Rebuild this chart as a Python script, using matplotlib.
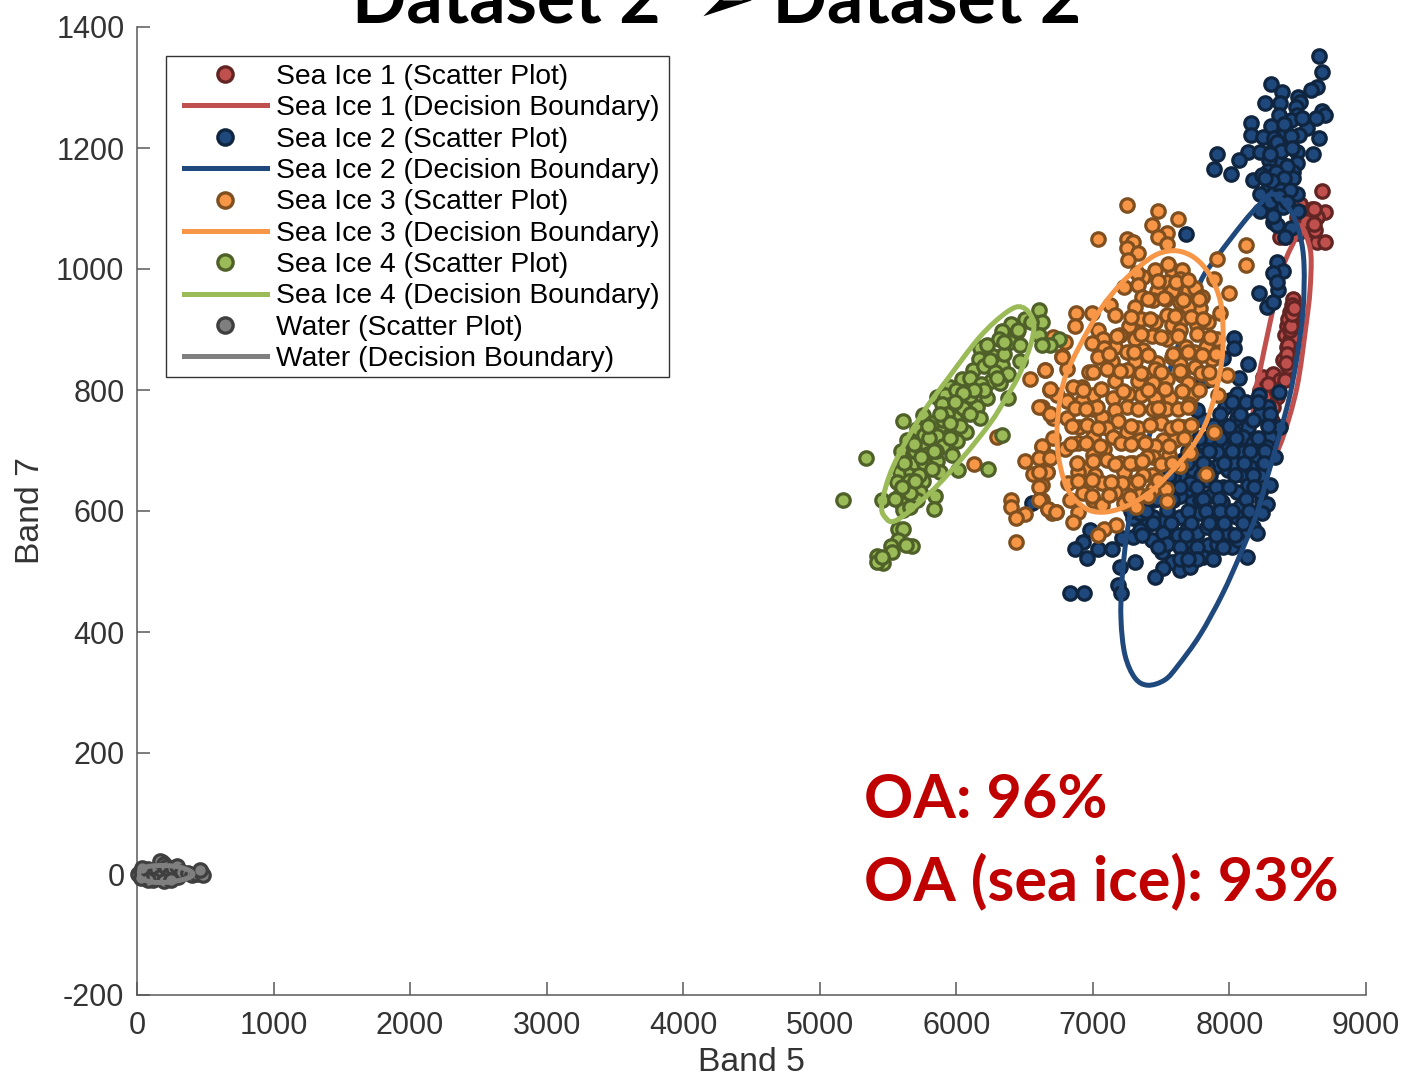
import matplotlib
matplotlib.use("Agg")
import matplotlib.pyplot as plt
from matplotlib.lines import Line2D
from matplotlib.patches import PathPatch, Rectangle
from matplotlib.path import Path

plt.rcParams['font.family'] = ['Liberation Sans', 'DejaVu Sans']
plt.rcParams['axes.unicode_minus'] = False

W, H = 1404, 1076

title_text = "Dataset 2  \u27A2 Dataset 2"
oa_lines = ["OA: 96%", "OA (sea ice): 93%"]
x_label = "Band 5"
y_label = "Band 7"
x_ticks = [0, 1000, 2000, 3000, 4000, 5000, 6000, 7000, 8000, 9000]
y_ticks = [-200, 0, 200, 400, 600, 800, 1000, 1200, 1400]

ice1_x = [8680,8700,8602,8517,8595,8493,8566,8639,8700,8407,8639,8541,8590,8627,8371,
          8468,8456,8444,8456,8419,8432,8407,8444,8419,8395,8444,8468,8432,8440,8430,8450,8425,8460,8470,8415,
          8310,8248,8224,8322,8371,8297,8346,8273,8310,8407,8200,8322,8290,8280,
          8230,8260,8340,8280,8560,8620,8500,8620]
ice1_y = [1129,1095,1100,1108,1076,1086,1064,1044,1044,1053,1086,1092,1086,1064,1053,
          951,940,929,913,905,918,891,883,871,849,860,888,838,900,875,905,860,925,935,845,
          811,822,800,827,816,789,789,761,748,816,783,772,752,745,
          770,790,800,810,1080,1075,1060,1100]
ice1_bx = [8517,8561,8597,8590,8561,8495,8392,8311,8238,8187,8172,8187,8224,8297,8392,8495,8517]
ice1_by = [1073,1056,1023,965,907,805,722,684,671,692,750,795,833,911,1003,1056,1073]

ice2_x = [8656,8678,8304,8641,8597,8385,8502,8370,8260,8517,8487,8678,8700,8634,8495,8363,8451,8158,8304,8407,
          8568,8158,8510,8246,8326,8656,8429,8326,8136,8224,8495,7909,8612,8070,8363,8290,8495,7887,8282,8465,8011,
          8172,8238,8348,8465,8407,8290,8224,8326,8495,8392,8502,8224,8319,8348,8451,8407,8319,
          8400,8350,8450,8380,8420,8340,8300,8400,8460,8530,8310,8380,8440,8260,8300,8360,8420,
          7682,8348,8392,8319,8356,8216,8348,8275,8319,8033,8033,8136,7953,8070,7799,8363,8055,8216,8282,6552,
          8053,8139,8036,7931,8224,8297,8371,8200,8097,7992,7907,7809,7736,7907,7992,8097,8224,8297,8139,8053,
          7956,7858,7724,7638,7687,7589,7516,7394,7296,7785,7907,7992,8102,8126,8017,7846,7687,7431,7309,7199,
          6930,6869,7040,7138,6955,6979,7211,7296,7504,7577,7516,7455,7638,7711,7809,7687,7589,7187,7206,6833,
          6938,8236,8224,8175,8078,7980,7882,7785,7638,7541,7443,7345,7760,7834,8053,7943,7834,7760,7858,7980,
          8102,8175,8273,8334,8029,8151,7834,7711,8078,8175,8004,8053,7968,7809,7638,7516,7662,7589,7492,7443,
          7345,7541,7736,7907,8065,8175,8200,8273,8236,7834,7809,7760,
          8020,8120,8210,8300,7930,8280,8000,7880,7780,7930,8050,8210,7700,7850,8020,8150,8260,7620,7690,7960,
          8110,8250,7560,7790,7860,8040,8170,7500,7640,7760,7900,8000,8180,7380,7470,7580,7810,7920,8120,7280,
          7390,7700,7830,7930,8020,8140,7440,7570,7720,7850,7960,8100,7360,7620,7900,8040,7680,7480,7640,7760,
          7950,7640,7760,7880,7700]
ice2_y = [1352,1326,1306,1301,1296,1293,1284,1274,1274,1276,1268,1261,1255,1250,1255,1255,1246,1241,1236,1227,
          1233,1222,1222,1218,1217,1217,1208,1202,1193,1193,1193,1190,1190,1180,1180,1180,1175,1165,1162,1160,1157,
          1147,1155,1142,1150,1134,1138,1124,1126,1124,1103,1096,1096,1078,1073,1068,1053,1088,
          1240,1210,1220,1195,1170,1160,1190,1150,1200,1250,1145,1130,1130,1150,1110,1120,1110,
          1058,1012,997,993,965,960,979,937,945,886,869,843,853,820,820,797,790,792,772,614,
          753,739,730,750,761,723,739,690,698,702,698,712,668,674,668,659,659,643,643,632,
          640,624,618,659,635,618,585,577,588,596,571,563,566,524,541,544,568,552,516,508,
          549,538,538,538,522,568,555,557,533,516,505,491,502,508,524,544,555,478,464,464,
          464,615,632,596,607,596,596,618,590,601,590,568,563,574,590,615,651,690,723,728,
          723,712,706,690,679,673,673,646,761,750,783,794,772,679,624,563,684,657,635,618,
          596,546,530,546,552,574,563,612,596,816,750,767,
          780,780,780,760,760,740,740,740,720,720,720,720,700,700,700,700,700,680,680,680,
          680,680,660,660,660,660,660,640,640,640,640,640,640,620,620,620,620,620,620,600,
          600,600,600,600,600,600,580,580,580,580,580,580,560,560,560,560,560,540,540,540,
          540,520,520,520,520]
ice2_bx = [8319,8443,8516,8546,8539,8495,8443,8370,8282,8202,8077,7945,7784,7625,7528,7403,7308,7235,7206,7213,
           7257,7345,7491,7638,7784,7909,8099,8209,8319]
ice2_by = [1124,1098,1056,1007,932,855,792,729,660,597,527,461,395,345,321,312,324,362,420,486,
           574,668,784,883,977,1020,1076,1104,1124]

ice3_x = [7248,7475,7621,7433,7040,7541,7475,7541,7248,7292,7253,7333,7260,8119,8119,7912,7887,7995,7455,7577,
          7553,7651,7370,7638,7541,7321,7333,7231,7699,7577,7472,7748,7797,7638,7536,7443,7358,7785,7126,7309,
          7699,6877,6991,7162,7541,7455,7350,7267,7577,7846,7765,7931,7650,6869,7040,7199,7431,7309,7638,7907,
          7541,6796,7077,6991,7162,7082,7829,7680,7370,7248,7741,6772,7870,7577,7309,7138,7638,7467,7040,7101,
          7248,7455,6650,6808,7748,6974,7541,7980,7333,7162,7650,7870,6918,6857,7438,7699,6686,7004,7350,7145,
          7260,7565,7919,7724,6735,6918,7455,6808,7707,6625,7248,7000,7438,7536,7626,7162,6686,6813,7065,7187,
          6711,7497,6899,7333,7663,7101,7253,7887,7000,7345,7150,7516,7602,6711,6894,7206,7455,6625,6796,7082,
          7667,7711,7560,6686,7000,7438,7394,7101,7292,7199,7638,6955,6667,7829,7436,7016,6894,7370,7228,6625,
          6820,7065,7292,7211,7443,7536,7162,6930,7345,6833,6625,7000,7541,7228,7065,7316,6674,6730,6894,6703,
          6852,7167,7082,7040,
          6540,6649,6686,6608,6686,6772,6710,6295,6130,6625,6503,6608,6686,6559,6662,6608,6608,6400,6400,6608,
          6503,6437,6674,6730,6437,
          7480,7610,7700,7400,7520,7660,7780,7280,7420,7600,7720,7810,7180,7350,7500,7620,7760,7860,7120,7300,
          7400,7590,7700,7800,7900,7000,7200,7350,7500,7640,7790,7850,6930,7060,7220,7400,7530,7650,7780,6870,
          7030,7330,7480,7700,6950,6850,6960,7040,7280,7420,7570,7620,7720,6840,6950,7050,7280,7380,7560,6880,
          7000,7160,7270,7360,7500,7580,6890,6990,7130,7330,7480,6990,7120,7270,7400]
ice3_y = [1105,1096,1082,1073,1049,1060,1053,1041,1049,1044,1034,1027,1015,1040,1006,1016,983,960,998,998,
          1009,998,987,983,979,993,973,970,965,963,963,968,954,946,950,949,954,936,940,938,
          938,927,927,924,924,913,917,905,908,913,908,927,918,905,899,891,890,885,899,885,
          885,880,885,877,871,870,871,871,866,862,862,856,852,855,848,848,843,845,855,834,
          833,834,833,834,838,829,819,824,815,815,824,819,805,805,811,811,800,792,792,786,
          794,786,792,792,792,782,786,782,777,772,772,768,768,768,768,767,761,753,755,749,
          753,745,739,737,739,737,731,730,723,717,723,717,717,720,712,712,707,706,703,703,
          720,696,692,690,692,689,690,684,679,679,675,670,665,661,660,659,665,659,665,643,
          646,646,646,646,637,637,632,629,626,618,618,618,617,614,610,607,604,599,599,596,
          581,577,570,561,
          819,833,801,772,761,855,888,723,678,707,683,688,688,661,665,665,640,618,607,618,
          595,589,603,599,548,
          980,978,982,950,952,948,951,920,918,922,920,918,890,892,888,890,892,888,860,862,
          858,860,862,858,860,830,832,828,830,832,828,830,800,802,798,800,802,798,800,770,
          772,768,770,772,768,740,742,738,740,742,738,740,742,710,712,708,710,712,708,680,
          682,678,680,682,678,680,650,652,648,650,652,625,627,623,625]
ice3_bx = [7616,7748,7857,7931,7953,7945,7894,7821,7711,7587,7418,7235,7074,6942,6818,6752,6737,6759,6803,6906,
           7052,7199,7345,7477,7616]
ice3_by = [1030,1018,990,949,904,850,792,742,701,668,631,607,598,605,635,684,734,783,825,874,
           932,974,1005,1025,1030]

ice4_x = [6608,6503,6630,6547,6400,6332,6447,6315,6608,6752,6686,6625,6393,6466,6173,6271,6169,6466,6337,6222,
          6381,6125,6252,6044,6112,6320,5954,6039,6381,5856,6222,5917,5966,6149,6088,5893,5990,6174,5929,5758,
          5612,5881,5820,5715,6069,6332,5856,5763,6003,5636,5900,5778,5339,5966,5595,5685,5795,5861,5795,6230,
          5588,5668,5881,6015,5758,5563,5636,5734,5588,5844,5173,5453,5710,5600,5837,5612,5661,5575,5612,5571,
          5522,5673,5632,5422,5527,5466,5417,5453,
          6000,6100,6200,5900,5800,5700,5650,6280,6350,6050,5950,5700,5850,6100,6180,5760,
          6450,6350,6250,6300,6200,6130,6050,6100,5990,6030,5950,5880,5840,5790,5690,5740,5820,5730,5620,5660,
          5600,5700,5550]
ice4_y = [932,918,912,913,909,898,896,884,891,885,875,875,880,875,870,856,851,848,842,874,
          827,833,815,819,804,811,805,797,787,788,786,791,777,772,762,777,753,753,761,758,
          749,740,745,735,730,725,724,725,716,717,707,707,688,692,699,695,695,683,673,669,
          665,665,665,667,650,648,645,632,626,625,618,618,618,612,603,601,607,571,571,552,
          542,542,543,525,532,514,516,524,
          800,820,840,750,720,680,650,830,860,770,720,700,700,790,810,680,
          900,880,850,820,800,800,795,760,780,740,745,760,700,740,710,690,670,660,680,630,
          640,650,620]
ice4_bx = [6481,6561,6554,6466,6356,6247,6049,5807,5565,5478,5456,5536,5734,5932,6173,6371,6481]
ice4_by = [937,916,883,828,784,745,689,630,585,590,613,673,755,817,888,929,937]

water_x = [10,30,50,60,80,100,120,150,170,185,165,200,215,240,260,290,300,330,370,400,440,470,480,465,120,200,80,30,40,250]
water_y = [0,5,-5,4,8,-6,5,8,-5,20,22,16,12,0,10,14,-5,3,2,-2,0,3,-2,6,-10,-12,-10,-6,10,-10]
water_bx = [10,40,100,200,300,380,410,380,300,200,100,40,10]
water_by = [0,9,13,14,12,6,0,-6,-11,-14,-13,-8,0]

series_names = ["Sea Ice 1", "Sea Ice 2", "Sea Ice 3", "Sea Ice 4", "Water"]
scatter_data = [(ice1_x, ice1_y), (ice2_x, ice2_y), (ice3_x, ice3_y), (ice4_x, ice4_y), (water_x, water_y)]
boundary_data = [(ice1_bx, ice1_by), (ice2_bx, ice2_by), (ice3_bx, ice3_by), (ice4_bx, ice4_by), (water_bx, water_by)]
face_colors = ["#C0504D", "#1F497D", "#F79646", "#9BBB59", "#7F7F7F"]
edge_colors = ["#632523", "#10253F", "#7F4F1F", "#4F6128", "#3F3F3F"]


def closed_curve(xs, ys):
    """Smooth closed path through the read boundary points (last point repeats the first)."""
    pts = list(zip(xs[:-1], ys[:-1]))
    n = len(pts)
    verts = [pts[0]]
    codes = [Path.MOVETO]
    for i in range(n):
        p0, p1, p2, p3 = pts[i - 1], pts[i], pts[(i + 1) % n], pts[(i + 2) % n]
        c1 = (p1[0] + (p2[0] - p0[0]) / 6, p1[1] + (p2[1] - p0[1]) / 6)
        c2 = (p2[0] - (p3[0] - p1[0]) / 6, p2[1] - (p3[1] - p1[1]) / 6)
        verts += [c1, c2, p2]
        codes += [Path.CURVE4] * 3
    return Path(verts, codes)


fig = plt.figure(figsize=(W / 100, H / 100), dpi=100)
ax = fig.add_axes([137 / W, 1 - 995 / H, (1366 - 137) / W, (995 - 27) / H])

handles, labels = [], []
for i, (name, (sx, sy), (bx, by), fc, ec) in enumerate(zip(series_names, scatter_data, boundary_data, face_colors, edge_colors)):
    ax.plot(sx, sy, ls="none", marker="o", ms=9.7, mfc=fc, mec=ec, mew=2.3, clip_on=False, zorder=2 + i * 2)
    ax.add_patch(PathPatch(closed_curve(bx, by), fill=False, edgecolor=fc, lw=3.6, zorder=3 + i * 2))
    handles.append(Line2D([], [], ls="none", marker="o", ms=11, mfc=fc, mec=ec, mew=2.4))
    labels.append(name + " (Scatter Plot)")
    handles.append(Line2D([], [], color=fc, lw=3.6))
    labels.append(name + " (Decision Boundary)")

ax.set_xlim(0, 9000)
ax.set_ylim(-200, 1400)
ax.set_xticks(x_ticks)
ax.set_yticks(y_ticks)
for s in ("top", "right"):
    ax.spines[s].set_visible(False)
for s in ("left", "bottom"):
    ax.spines[s].set_color("#595959")
    ax.spines[s].set_linewidth(1.1)
ax.tick_params(direction="in", length=9.4, width=1.1, color="#595959", labelcolor="#333333", labelsize=22)
ax.tick_params(axis="x", pad=11.5)
ax.tick_params(axis="y", pad=9)
ax.set_xlabel(x_label, fontsize=24.3, color="#333333", labelpad=4)
ax.set_ylabel(y_label, fontsize=24.3, color="#333333", labelpad=7)

ax.add_patch(Rectangle((166 / W, 1 - 377 / H), (669 - 166) / W, (377 - 56) / H, transform=fig.transFigure,
                       facecolor="white", edgecolor="#333333", lw=1.0, clip_on=False, zorder=20))
leg = ax.legend(handles, labels, loc="upper left", bbox_to_anchor=((184 - 137) / 1229, (995 - 64) / 968), fontsize=20.3,
                frameon=False, handlelength=2.93, handletextpad=0.35, labelspacing=0.19, borderpad=0,
                borderaxespad=0, numpoints=1)
leg.set_zorder(21)

fig.text(864 / W, 1 - 818 / H, oa_lines[0], color="#C00000", fontsize=44, fontweight="bold", family="Lato", va="baseline")
fig.text(864 / W, 1 - 900 / H, oa_lines[1], color="#C00000", fontsize=44, fontweight="bold", family="Lato", va="baseline")
fig.text(352 / W, 1 - 23 / H, title_text, color="black", fontsize=51.5, fontweight="bold", family=["Lato", "DejaVu Sans"], va="baseline")

fig.savefig("out.png", dpi=100, facecolor="white")
